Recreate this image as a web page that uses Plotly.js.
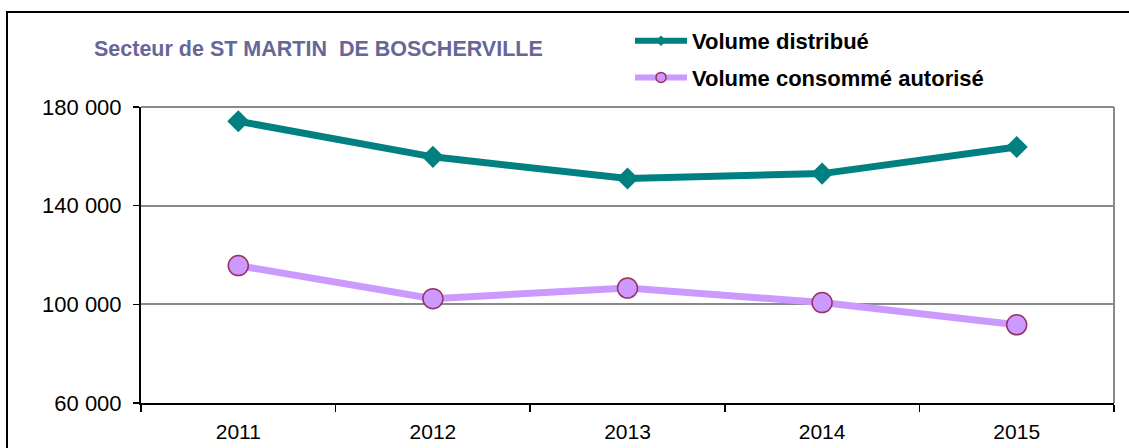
<!DOCTYPE html>
<html>
<head>
<meta charset="utf-8">
<script src="https://cdn.plot.ly/plotly-3.0.1.min.js"></script>
<style>html,body{margin:0;padding:0;background:#fff;}#chart{width:1129px;height:448px;}</style>
</head>
<body>
<div id="chart"></div>
<script>
const years = ["2011", "2012", "2013", "2014", "2015"];
const volumeDistribue = [174200, 159800, 151000, 153000, 163800];
const volumeConsomme = [115700, 102300, 106600, 100700, 91700];
const seriesNames = ["Volume distribué", "Volume consommé autorisé"];
const yTicks = [60000, 100000, 140000, 180000];
const chartTitle = "Secteur de ST MARTIN  DE BOSCHERVILLE";

const teal = "#008080";
const lilac = "#CC99FF";
const plum = "#993366";

const traces = [
  {x: years, y: volumeDistribue, type: "scatter", mode: "lines+markers", name: seriesNames[0],
   showlegend: false, line: {color: teal, width: 7},
   marker: {symbol: "diamond", size: 17, color: teal}},
  {x: years, y: volumeConsomme, type: "scatter", mode: "lines+markers", name: seriesNames[1],
   showlegend: false, line: {color: lilac, width: 7},
   marker: {symbol: "circle", size: 20, color: lilac, line: {color: plum, width: 1.5}}},
  {x: [null], y: [null], type: "scatter", mode: "lines+markers", name: seriesNames[0], legendgroup: "a",
   line: {color: teal, width: 6}, marker: {symbol: "diamond", size: 8, color: teal}},
  {x: [null], y: [null], type: "scatter", mode: "lines+markers", name: seriesNames[1], legendgroup: "b",
   line: {color: lilac, width: 6}, marker: {symbol: "circle", size: 10, color: lilac, line: {color: plum, width: 1.5}}}
];

const W = 1129, H = 448;
const L = 141, R = 1114, T = 107, B = 403;
const px2x = p => (p - L) / (R - L);
const px2y = p => (B - p) / (B - T);

const layout = {
  width: W, height: H,
  margin: {l: L, r: W - R, t: T, b: H - B, pad: 0},
  paper_bgcolor: "#ffffff", plot_bgcolor: "#ffffff",
  separators: ", ",
  font: {family: "Liberation Sans, Arial, sans-serif", size: 21, color: "#000000"},
  title: {text: chartTitle, x: 94 / W, xref: "container", xanchor: "left", y: 1 - 48 / H, yref: "container", yanchor: "middle",
          font: {family: "Liberation Sans, Arial, sans-serif", size: 21.5, color: "#666699", weight: "bold"}},
  showlegend: true,
  legend: {x: px2x(630), xanchor: "left", y: px2y(20), yanchor: "top", traceorder: "grouped", tracegroupgap: 5,
           itemwidth: 52, bgcolor: "rgba(0,0,0,0)",
           font: {family: "Liberation Sans, Arial, sans-serif", size: 22, color: "#000000", weight: "bold"}},
  xaxis: {type: "category", range: [-0.5, 4.5], tickson: "boundaries", ticks: "outside", ticklen: 7, tickwidth: 1.5,
          tickcolor: "#000000", showline: true, linecolor: "#000000", linewidth: 2, showgrid: false, zeroline: false,
          ticklabelstandoff: 9, tickfont: {size: 21}},
  yaxis: {range: [60000, 180000], tickmode: "array", tickvals: yTicks, tickformat: ",.0f", ticks: "outside",
          ticklen: 6, tickwidth: 1.5, tickcolor: "#000000", showline: true, linecolor: "#000000", linewidth: 2,
          showgrid: true, gridcolor: "#8a8a8a", gridwidth: 2, zeroline: false, ticklabelstandoff: 7, tickfont: {size: 22}},
  shapes: [
    {type: "line", xref: "paper", yref: "paper", x0: 1, x1: 1, y0: 0, y1: 1, line: {color: "#8a8a8a", width: 2}},
    {type: "line", xref: "paper", yref: "paper", x0: 0, x1: 1, y0: 1, y1: 1, line: {color: "#8a8a8a", width: 2}},
    {type: "rect", xref: "paper", yref: "paper", x0: px2x(7), x1: px2x(1140), y0: px2y(460), y1: px2y(12),
     line: {color: "#000000", width: 2}, fillcolor: "rgba(0,0,0,0)", layer: "below"}
  ]
};

Plotly.newPlot("chart", traces, layout, {displayModeBar: false, staticPlot: true});
</script>
</body>
</html>
